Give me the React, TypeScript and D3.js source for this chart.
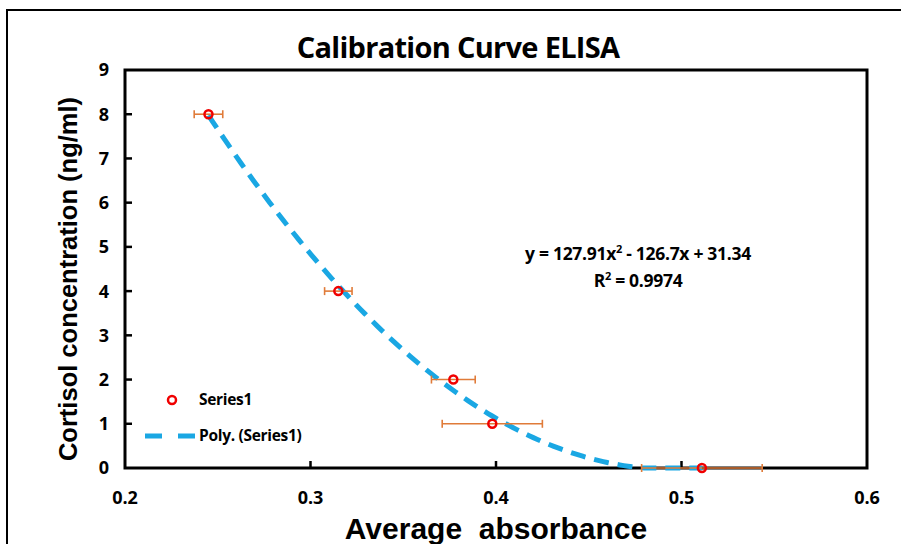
import * as d3 from "d3";

const absorbance = [0.245, 0.315, 0.377, 0.398, 0.511];
const concentration = [8, 4, 2, 1, 0];
const absorbanceErr = [0.0077, 0.0074, 0.0118, 0.027, 0.0325];
const polyCoef = [127.91, -126.7, 31.34]; // a, b, c of the Excel trendline
const xTicks = [0.2, 0.3, 0.4, 0.5, 0.6];
const yTicks = [0, 1, 2, 3, 4, 5, 6, 7, 8, 9];

const W = 901;
const H = 544;
const tickFont = "'Open Sans', 'Noto Sans', sans-serif";

export default function App() {
  const x = d3.scaleLinear().domain([0.2, 0.6]).range([125, 867]);
  const y = d3.scaleLinear().domain([0, 9]).range([468, 70]);

  const [a, b, c] = polyCoef;
  const xMin = d3.min(absorbance)!;
  const xMax = d3.max(absorbance)!;
  const samples = d3.range(0, 121).map((i) => xMin + ((xMax - xMin) * i) / 120);
  const trend = samples.map((v) => ({ x: v, y: Math.max(0, a * v * v + b * v + c) }));
  const line = d3
    .line<{ x: number; y: number }>()
    .x((d) => x(d.x))
    .y((d) => y(d.y));

  const pts = absorbance.map((v, i) => ({ x: v, y: concentration[i], e: absorbanceErr[i] }));

  return (
    <svg width={W} height={H} style={{ position: "absolute", left: 0, top: 0 }}>
      <rect x={0} y={0} width={W} height={H} fill="#fff" />
      <path d={`M7,${H} V10 H${W}`} fill="none" stroke="#000" strokeWidth={2} />

      <text
        x={458}
        y={58}
        textAnchor="middle"
        fontFamily={tickFont}
        fontWeight="bold"
        fontSize={29}
        letterSpacing={-0.7}
      >
        Calibration Curve ELISA
      </text>

      {/* ticks */}
      {yTicks.slice(1, -1).map((t) => (
        <line key={"yt" + t} x1={x(0.2)} x2={x(0.2) + 7} y1={y(t)} y2={y(t)} stroke="#000" strokeWidth={2.5} />
      ))}
      {xTicks.slice(1, -1).map((t) => (
        <line key={"xt" + t} x1={x(t)} x2={x(t)} y1={y(0)} y2={y(0) - 7} stroke="#000" strokeWidth={2.5} />
      ))}
      <rect
        x={x(0.2)}
        y={y(9)}
        width={x(0.6) - x(0.2)}
        height={y(0) - y(9)}
        fill="none"
        stroke="#000"
        strokeWidth={3}
      />

      {yTicks.map((t) => (
        <text
          key={"yl" + t}
          x={109}
          y={y(t)}
          dy="0.36em"
          textAnchor="end"
          fontFamily={tickFont}
          fontWeight="bold"
          fontSize={18}
        >
          {t}
        </text>
      ))}
      {xTicks.map((t) => (
        <text
          key={"xl" + t}
          x={x(t)}
          y={504}
          textAnchor="middle"
          fontFamily={tickFont}
          fontWeight="bold"
          fontSize={18}
        >
          {d3.format(".1f")(t)}
        </text>
      ))}

      <text
        x={496}
        y={539}
        textAnchor="middle"
        fontFamily="'Liberation Sans', Arial, sans-serif"
        fontWeight="bold"
        fontSize={30}
        style={{ whiteSpace: "pre" }}
      >
        {"Average  absorbance"}
      </text>
      <text
        transform={`translate(77,279) rotate(-90)`}
        textAnchor="middle"
        fontFamily="'Liberation Sans', Arial, sans-serif"
        fontWeight="bold"
        fontSize={25.5}
      >
        Cortisol concentration (ng/ml)
      </text>

      {/* trendline */}
      <path
        d={line(trend)!}
        fill="none"
        stroke="#1AA7E3"
        strokeWidth={5}
        strokeDasharray="15 9"
      />

      {/* error bars */}
      {pts.map((p, i) => (
        <g key={"e" + i} stroke="#E07B39" strokeWidth={1.6}>
          <line x1={x(p.x - p.e)} x2={x(p.x + p.e)} y1={y(p.y)} y2={y(p.y)} />
          <line x1={x(p.x - p.e)} x2={x(p.x - p.e)} y1={y(p.y) - 4} y2={y(p.y) + 4} />
          <line x1={x(p.x + p.e)} x2={x(p.x + p.e)} y1={y(p.y) - 4} y2={y(p.y) + 4} />
        </g>
      ))}
      {pts.map((p, i) => (
        <circle key={"p" + i} cx={x(p.x)} cy={y(p.y)} r={4} fill="none" stroke="#F00000" strokeWidth={2.5} />
      ))}

      <text
        x={638}
        y={260}
        textAnchor="middle"
        fontFamily={tickFont}
        fontWeight="bold"
        fontSize={17.5}
        letterSpacing={-0.3}
      >
        y = 127.91x<tspan dy={-7} fontSize={11}>2</tspan>
        <tspan dy={7}> - 126.7x + 31.34</tspan>
      </text>
      <text
        x={638}
        y={287}
        textAnchor="middle"
        fontFamily={tickFont}
        fontWeight="bold"
        fontSize={17.5}
        letterSpacing={-0.3}
      >
        R<tspan dy={-7} fontSize={11}>2</tspan>
        <tspan dy={7}> = 0.9974</tspan>
      </text>

      {/* legend */}
      <circle cx={172} cy={400} r={4} fill="none" stroke="#F00000" strokeWidth={2.5} />
      <text x={199} y={400} dy="0.35em" fontFamily={tickFont} fontWeight="bold" fontSize={15.5} letterSpacing={-0.3}>
        Series1
      </text>
      <line x1={145} x2={195} y1={436} y2={436} stroke="#1AA7E3" strokeWidth={5} strokeDasharray="17 16" />
      <text x={199} y={436} dy="0.35em" fontFamily={tickFont} fontWeight="bold" fontSize={15.5} letterSpacing={-0.3}>
        Poly. (Series1)
      </text>
    </svg>
  );
}
